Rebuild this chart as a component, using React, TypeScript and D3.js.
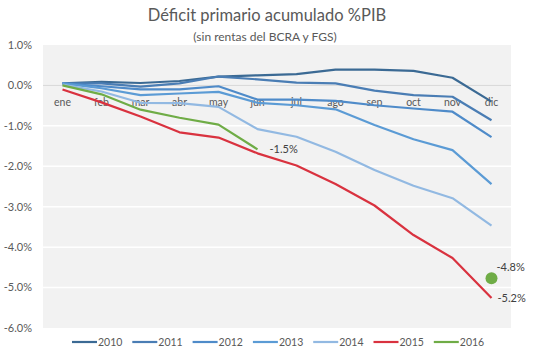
import React from "react";
import * as d3 from "d3";

const months = ["ene", "feb", "mar", "abr", "may", "jun", "jul", "ago", "sep", "oct", "nov", "dic"];
const years = ["2010", "2011", "2012", "2013", "2014", "2015", "2016"];
const colors = ["#3B6A94", "#4A7DB4", "#4F8BC9", "#5B9BD5", "#92B9E2", "#D9323F", "#6FAC46"];

const s2010 = [0.05, 0.09, 0.06, 0.11, 0.22, 0.25, 0.28, 0.39, 0.39, 0.36, 0.19, -0.4];
const s2011 = [0.05, 0.05, -0.03, 0.05, 0.22, 0.15, 0.07, 0.05, -0.13, -0.24, -0.28, -0.86];
const s2012 = [0.05, -0.02, -0.1, -0.1, -0.02, -0.35, -0.35, -0.38, -0.49, -0.57, -0.65, -1.28];
const s2013 = [0.05, -0.07, -0.24, -0.2, -0.16, -0.43, -0.49, -0.59, -0.98, -1.33, -1.6, -2.44];
const s2014 = [0.02, -0.15, -0.43, -0.44, -0.53, -1.08, -1.27, -1.64, -2.09, -2.48, -2.79, -3.47];
const s2015 = [-0.1, -0.42, -0.77, -1.16, -1.29, -1.68, -1.98, -2.44, -2.97, -3.7, -4.27, -5.26];
const s2016 = [0.0, -0.22, -0.6, -0.8, -0.97, -1.58];
const series = [s2010, s2011, s2012, s2013, s2014, s2015, s2016];

const target2016 = { month: "dic", value: -4.77, label: "-4.8%" };
const endLabels = [
  { month: "jun", value: -1.58, label: "-1.5%" },
  { month: "dic", value: -5.26, label: "-5.2%" },
];

const yTicks = [1, 0, -1, -2, -3, -4, -5, -6];

const W = 535, H = 355;
const plot = { left: 43, right: 511, top: 45, bottom: 328 };
const FONT = "Lato, 'Open Sans', sans-serif";
const TEXT = "#595959";

export default function App() {
  const x = d3.scalePoint<string>().domain(months).range([plot.left, plot.right]).padding(0.5);
  const y = d3.scaleLinear().domain([-6, 1]).range([plot.bottom, plot.top]);
  const line = d3
    .line<number>()
    .x((_, i) => x(months[i]) as number)
    .y((d) => y(d));
  const fmt = (v: number) => v.toFixed(1) + "%";

  return (
    <svg width={W} height={H} style={{ position: "absolute", left: 0, top: 0 }} fontFamily={FONT}>
      <rect x={0} y={0} width={W} height={H} fill="#fff" />
      <text x={267} y={21} textAnchor="middle" fontSize={16.5} fill={TEXT}>
        Déficit primario acumulado %PIB
      </text>
      <text x={265} y={41} textAnchor="middle" fontSize={12} fill={TEXT}>
        (sin rentas del BCRA y FGS)
      </text>
      <rect x={plot.left} y={plot.top} width={plot.right - plot.left} height={plot.bottom - plot.top} fill="#F2F2F2" />
      {yTicks.map((t) => (
        <g key={t}>
          {t !== 0 && t !== 1 && t !== -6 && (
            <line x1={plot.left} x2={plot.right} y1={y(t)} y2={y(t)} stroke="#fff" strokeWidth={1.5} />
          )}
          <text x={32} y={y(t)} dy="0.35em" textAnchor="end" fontSize={11} fill={TEXT}>
            {fmt(t)}
          </text>
        </g>
      ))}
      <line x1={plot.left} x2={plot.right} y1={y(0)} y2={y(0)} stroke="#D9D9D9" strokeWidth={1} />
      {months.map((m) => (
        <text key={m} x={x(m)} y={102} dy="0.35em" textAnchor="middle" fontSize={10.5} fill={TEXT}>
          {m}
        </text>
      ))}
      {series.map((s, i) => (
        <path key={years[i]} d={line(s) || ""} fill="none" stroke={colors[i]} strokeWidth={2.2} strokeLinejoin="round" />
      ))}
      <circle cx={x(target2016.month)} cy={y(target2016.value)} r={6} fill={colors[6]} />
      <text x={(x(target2016.month) as number) + 5} y={y(target2016.value) - 11} dy="0.35em" fontSize={11} fill="#404040">
        {target2016.label}
      </text>
      {endLabels.map((l) => (
        <text key={l.label} x={(x(l.month) as number) + (l.month === "dic" ? 6 : 12)} y={y(l.value)} dy="0.35em" fontSize={11} fill="#404040">
          {l.label}
        </text>
      ))}
      {years.map((yr, i) => {
        const lx = 72 + i * 60.3;
        return (
          <g key={yr}>
            <line x1={lx} x2={lx + 25} y1={342} y2={342} stroke={colors[i]} strokeWidth={2.2} />
            <text x={lx + 26} y={342} dy="0.35em" fontSize={10.5} fill={TEXT}>
              {yr}
            </text>
          </g>
        );
      })}
    </svg>
  );
}
